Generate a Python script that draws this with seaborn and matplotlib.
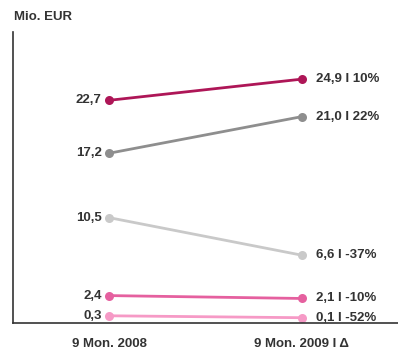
import pandas as pd
import matplotlib.pyplot as plt
import seaborn as sns

# data
periods = ['9 Mon. 2008', '9 Mon. 2009 I Δ']
series = ['A', 'B', 'C', 'D', 'E']
values_2008 = [22.7, 17.2, 10.5, 2.4, 0.3]
values_2009 = [24.9, 21.0, 6.6, 2.1, 0.1]
labels_2008 = ['22,7', '17,2', '10,5', '2,4', '0,3']
labels_2009 = ['24,9 I 10%', '21,0 I 22%', '6,6 I -37%', '2,1 I -10%', '0,1 I -52%']
colors = ['#AE1657', '#8E8E8E', '#C9C9C9', '#E5609F', '#F69AC6']

rows = []
for s, v0, v1 in zip(series, values_2008, values_2009):
    rows.append({'series': s, 'x': 0, 'value': v0})
    rows.append({'series': s, 'x': 1, 'value': v1})
df = pd.DataFrame(rows)

sns.set_style('white')
plt.rcParams['font.family'] = ['Liberation Sans', 'DejaVu Sans']

fig = plt.figure(figsize=(3.98, 3.53), dpi=100)
ax = fig.add_axes([13 / 398, 30 / 353, 1 - 13 / 398, 291 / 353])

sns.lineplot(data=df, x='x', y='value', hue='series', palette=colors,
             marker='o', markersize=6.5, markeredgewidth=0, linewidth=2,
             legend=False, ax=ax)

for i in range(len(series)):
    ax.text(-0.04, values_2008[i], labels_2008[i], ha='right', va='center',
            fontsize=9.5, fontweight='bold', color='#333333')
    ax.text(1.075, values_2009[i], labels_2009[i], ha='left', va='center',
            fontsize=9.5, fontweight='bold', color='#333333')

ax.set_xlim(-0.5, 1.5)
ax.set_ylim(-0.45, 29.8)
ax.set_xticks([0, 1])
ax.set_xticklabels(periods, fontsize=9.5, fontweight='bold', color='#333333')
ax.set_yticks([])
ax.set_xlabel('')
ax.set_ylabel('')
ax.tick_params(axis='x', length=0, pad=11)
for side in ['top', 'right']:
    ax.spines[side].set_visible(False)
for side in ['left', 'bottom']:
    ax.spines[side].set_color('#333333')
    ax.spines[side].set_linewidth(1.2)

fig.text(14 / 398, 1 - 17 / 353, 'Mio. EUR', ha='left', va='center',
         fontsize=9.5, fontweight='bold', color='#333333')

fig.savefig('out.png', dpi=100)
